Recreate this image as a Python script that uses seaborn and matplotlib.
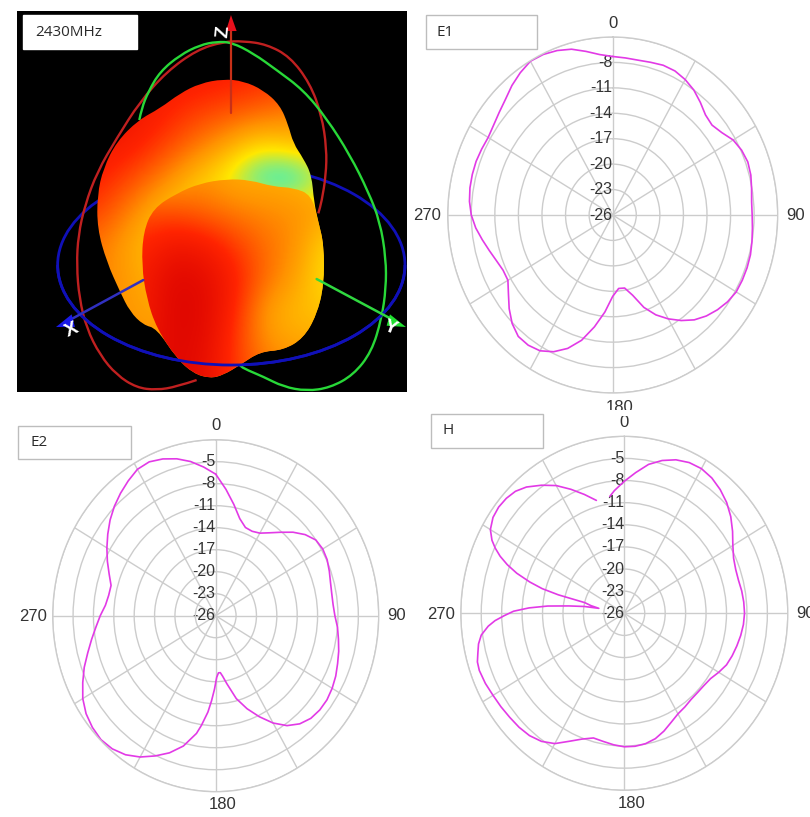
import numpy as np
import matplotlib
matplotlib.use('Agg')
import matplotlib.pyplot as plt
from matplotlib.colors import LinearSegmentedColormap
from matplotlib.patches import Polygon, Ellipse, Arc, Rectangle, PathPatch
from matplotlib.path import Path
import seaborn as sns

# radiation pattern cuts, angle in degrees and gain in dB
e1_theta = list(range(0, 365, 5))
e1_gain = [-7.3, -7.4, -7.45, -7.35, -7.2, -7.25, -7.55, -8.0, -8.65, -9.3, -9.5, -9.05, -8.3, -7.9, -7.7,
           -7.8, -8.05, -8.25, -8.25, -8.15, -8.0, -7.85, -7.8, -7.8, -7.85, -8.15, -8.6, -9.15, -9.85,
           -10.8, -11.85, -13.0, -14.4, -16.2, -17.25, -17.3, -16.4, -14.5, -12.6, -10.7, -9.25, -8.2,
           -7.5, -7.25, -7.3, -7.9, -8.8, -9.8, -10.6, -10.6, -10.25, -9.75, -9.15, -8.5, -8.0, -7.7,
           -7.55, -7.5, -7.5, -7.6, -7.7, -7.5, -7.15, -6.7, -6.05, -5.5, -5.05, -5.1, -5.35, -5.75,
           -6.4, -7.0, -7.3]

e2_theta = [0, 5, 10, 15, 20, 25, 30, 35, 40, 45, 50, 55, 60, 65, 70, 75, 80, 85, 90, 95, 100, 105, 110, 115,
            120, 125, 130, 135, 140, 145, 150, 155, 160, 165, 170, 173, 175, 177, 179, 181, 183, 185, 188,
            190, 195, 200, 205, 210, 215, 220, 225, 230, 235, 240, 245, 250, 255, 260, 265, 270, 275, 280,
            285, 290, 295, 300, 305, 310, 315, 320, 325, 330, 335, 340, 345, 350, 355, 360]
e2_gain = [-6.7, -8.7, -10.6, -12.3, -13.2, -13.3, -13.0, -12.2, -11.15, -9.9, -8.8, -8.0, -7.8, -7.9, -8.2,
           -8.5, -8.65, -8.65, -8.45, -8.0, -7.65, -7.25, -6.9, -6.5, -6.2, -6.0, -6.0, -6.2, -6.75, -7.7,
           -9.1, -10.8, -12.5, -14.3, -16.6, -17.7, -18.2, -18.2, -17.6, -16.0, -14.4, -12.8, -10.9, -9.7,
           -7.6, -6.1, -4.9, -3.75, -2.85, -2.3, -2.1, -2.3, -2.7, -3.4, -4.4, -5.4, -6.5, -7.45, -8.3,
           -9.0, -9.7, -10.0, -10.05, -9.3, -8.4, -7.5, -6.6, -5.7, -4.9, -4.2, -3.55, -2.95, -2.85, -3.25,
           -3.85, -4.65, -5.65, -6.7]

# starts and ends either side of the -11 label, which hides that bit of the curve
h_theta = [-7.6, -5, 0, 5, 10, 15, 20, 25, 30, 35, 40, 45, 50, 55, 60, 65, 70, 75, 80, 85, 90, 95, 100, 105, 110,
           115, 120, 125, 130, 135, 140, 145, 150, 155, 160, 165, 170, 175, 180, 185, 190, 195, 200, 205, 210,
           215, 220, 225, 230, 235, 240, 245, 250, 253, 256, 259, 262, 265, 267, 269, 271, 273, 275, 277, 279,
           280.2, 282, 284, 284.5, 285.5, 287, 289, 291, 293, 295, 297, 300, 304, 308, 312, 316, 320, 325, 330,
           335, 340, 345]
h_gain = [-10.0, -9.3, -8.1, -6.85, -5.5, -4.55, -3.85, -3.45, -3.35, -3.6, -4.1, -4.75, -5.6, -6.6, -7.6, -8.3,
          -8.6, -8.65, -8.5, -8.4, -8.35, -8.45, -8.65, -8.9, -9.15, -9.45, -10.0, -10.55, -10.75, -10.8, -10.75,
          -10.5, -10.25, -9.7, -9.0, -8.4, -8.05, -7.9, -7.9, -8.1, -8.35, -8.5, -7.85, -6.85, -5.6, -4.8, -4.35,
          -4.15, -4.05, -3.9, -3.75, -3.5, -3.35, -3.45, -3.85, -4.2, -4.8, -5.95, -7.0, -8.4, -9.75, -12.0, -14.7,
          -17.8, -20.1, -22.2, -21.0, -20.0, -16.0, -13.5, -11.5, -9.3, -7.6, -6.2, -5.1, -4.2, -3.3, -2.75, -2.6,
          -2.7, -3.0, -3.65, -4.8, -6.0, -7.45, -8.85, -10.15]

rings_e1 = [-26, -23, -20, -17, -14, -11, -8, -5]
rings_low = [-26, -23, -20, -17, -14, -11, -8, -5, -2]
spokes = list(range(0, 360, 30))
cardinal_labels = ['0', '90', '180', '270']
cardinal_angles = [0, 90, 180, 270]

# 3D view, outlines in the panel's own units
back_x = [640, 700, 760, 810, 835, 850, 880, 905, 912, 925, 942, 942, 920, 880, 820, 750, 690, 640, 600, 550,
          500, 440, 400, 360, 330, 290, 262, 262, 280, 320, 385, 450, 510, 570]
back_y = [222, 228, 255, 300, 360, 415, 460, 510, 590, 650, 720, 840, 930, 1000, 1035, 1040, 1080, 1110, 1120, 1105,
          1060, 970, 960, 920, 860, 770, 670, 570, 490, 410, 345, 310, 265, 235]
front_x = [400, 430, 500, 570, 650, 720, 790, 850, 905, 925, 942, 942, 920, 880, 820, 750, 690, 640, 600, 550,
           500, 440, 410, 395]
front_y = [680, 610, 565, 535, 522, 525, 545, 548, 570, 650, 720, 840, 930, 1000, 1035, 1040, 1080, 1110, 1120, 1105,
           1060, 970, 880, 780]
red_x = [560, 500, 440, 380, 320, 270, 230, 208, 200, 205, 225, 262, 320, 390, 470, 560, 640, 700, 770, 840, 900,
         935, 950, 948, 935, 925]
red_y = [1125, 1145, 1155, 1148, 1110, 1050, 970, 880, 780, 690, 600, 500, 400, 290, 200, 135, 110, 108, 118, 155, 235,
         330, 430, 510, 590, 625]
green_x = [388, 395, 415, 450, 510, 570, 620, 665, 730, 800, 880, 950, 1020, 1075, 1110, 1128, 1128, 1115, 1085,
           1030, 960, 890, 820, 760, 700, 690]
green_y = [345, 310, 260, 200, 150, 120, 110, 112, 145, 195, 255, 340, 450, 560, 650, 760, 850, 940, 1040,
           1110, 1148, 1158, 1145, 1115, 1090, 1080]

# colour level of the surface, 0 dark red .. 1 green, on a coarse grid
back_shade = np.array([
    [.18, .18, .20, .20, .22, .25, .30, .35],
    [.15, .15, .22, .30, .35, .40, .45, .50],
    [.18, .20, .30, .42, .55, .70, .62, .60],
    [.22, .32, .45, .62, .78, 1.1, 1.15, .80],
    [.30, .45, .62, .70, .65, .60, .60, .60],
    [.42, .55, .66, .60, .60, .60, .60, .60],
    [.45, .52, .62, .60, .60, .60, .60, .60],
    [.45, .52, .55, .55, .55, .55, .55, .55],
    [.45, .50, .50, .50, .50, .50, .50, .50],
    [.45, .50, .50, .50, .50, .50, .50, .50]])
front_shade = np.array([
    [.55, .55, .50, .58, .58, .60, .65],
    [.35, .35, .40, .45, .48, .50, .55],
    [.25, .15, .18, .30, .42, .50, .72],
    [.20, .05, .08, .22, .42, .55, .75],
    [.20, .04, .06, .25, .55, .62, .65],
    [.15, .05, .08, .30, .50, .55, .55],
    [.10, .05, .10, .30, .40, .45, .45]])

level_cmap = LinearSegmentedColormap.from_list(
    'pattern', ['#d80000', '#ff2400', '#ff9200', '#ffe800', '#50f0b0'])

W, H = 810, 817


def smooth_path(xs, ys, closed=False):
    # quadratic curves through the midpoints, only for the drawn 3D outlines
    pts = np.column_stack([xs, ys]).astype(float)
    if closed:
        pts = np.vstack([pts, pts[:2]])
    mids = (pts[:-1] + pts[1:]) / 2
    verts = [mids[0] if closed else pts[0]]
    codes = [Path.MOVETO]
    for ctrl, end in zip(pts[1:-1], mids[1:]):
        verts += [ctrl, end]
        codes += [Path.CURVE3, Path.CURVE3]
    if not closed:
        verts.append(pts[-1])
        codes.append(Path.LINETO)
    return Path(verts, codes)


def pattern_panel(cx, cy, rx, ry, theta, gain, rings, top, offsets):
    # polar frame is a bit taller than wide in the original
    ax = fig.add_axes([(cx - rx) / W, 1 - (cy + ry) / H, 2 * rx / W, 2 * ry / H], projection='polar')
    ax.set_aspect('auto')
    ax.set_theta_zero_location('N')
    ax.set_theta_direction(-1)
    sns.lineplot(x=np.deg2rad(theta), y=gain, ax=ax, sort=False, estimator=None,
                 color='#e23ae6', linewidth=1.2)
    ax.set_xlabel('')
    ax.set_ylabel('')
    ax.set_rlim(-26, top)
    ax.set_rlabel_position(0)
    ax.set_yticks(rings)
    ax.set_yticklabels([str(r) if r != top else '' for r in rings])
    for lab in ax.get_yticklabels():
        lab.set_ha('right')
        lab.set_va('center')
        lab.set_color('#333333')
        lab.set_fontsize(11.5)
    ax.tick_params(axis='y', pad=3)
    ax.set_xticks(np.deg2rad(spokes))
    ax.set_xticklabels([])
    ax.grid(True, color='#cccccc', linewidth=1)
    ax.spines['polar'].set_color('#cccccc')
    ax.spines['polar'].set_linewidth(1)
    for lab, ang, off in zip(cardinal_labels, cardinal_angles, offsets):
        ax.annotate(lab, xy=(np.deg2rad(ang), top), xytext=off, textcoords='offset pixels',
                    ha='center', va='center', fontsize=12, color='#333333', annotation_clip=False)
    return ax


sns.set_theme(style='white')
plt.rcParams['font.family'] = ['Liberation Sans', 'DejaVu Sans']

fig = plt.figure(figsize=(W / 100, H / 100), dpi=100, facecolor='white')

label_offsets = [(0, 14), (18, 0), (7, -13), (-20, -1)]
pattern_panel(612.7, 215, 165, 178, e1_theta, e1_gain, rings_e1, -5, [(0, 13), (18, 0), (7, -15), (-21, 0)])
pattern_panel(215.7, 615.7, 163, 176, e2_theta, e2_gain, rings_low, -2, label_offsets)
pattern_panel(624.3, 613.3, 163.5, 177, h_theta, h_gain, rings_low, -2, label_offsets)

# 3D rendering, black square top left
ax3d = fig.add_axes([17.3 / W, 1 - 391.7 / H, 390 / W, 381 / H])
ax3d.set_facecolor('black')
ax3d.set_xticks([])
ax3d.set_yticks([])
for s in ax3d.spines.values():
    s.set_visible(False)

ax3d.add_patch(Ellipse((664, 780), 1042, 600, fill=False, ec='#1010b8', lw=2, zorder=1))
ax3d.add_patch(PathPatch(smooth_path(red_x, red_y), fc='none', ec='#c02020', lw=1.7, zorder=1))
ax3d.add_patch(PathPatch(smooth_path(green_x, green_y), fc='none', ec='#28d838', lw=1.7, zorder=1))

back = PathPatch(smooth_path(back_x, back_y, closed=True), fc='none', ec='none')
ax3d.add_patch(back)
im_back = ax3d.imshow(back_shade, cmap=level_cmap, vmin=0, vmax=1, interpolation='bicubic',
                      extent=(200, 1000, 1170, 170), aspect='auto', zorder=2)
im_back.set_clip_path(back)

front = PathPatch(smooth_path(front_x, front_y, closed=True), fc='none', ec='none', zorder=3)
ax3d.add_patch(front)
im_front = ax3d.imshow(front_shade, cmap=level_cmap, vmin=0, vmax=1, interpolation='bicubic',
                       extent=(350, 1000, 1170, 470), aspect='auto', zorder=3)
im_front.set_clip_path(front)

ax3d.set_xlim(22, 1192)
ax3d.set_ylim(1160, 17)

# part of the blue ring that passes in front
ax3d.add_patch(Arc((664, 780), 1042, 600, theta1=0, theta2=180, color='#1010b8', lw=2, zorder=4))

# axes of the 3D view
ax3d.plot([663, 663], [325, 70], color='#c83018', lw=1.6, zorder=4)
ax3d.plot([400, 170], [825, 950], color='#3030c0', lw=1.8, zorder=4)
ax3d.plot([920, 1150], [822, 945], color='#30d840', lw=1.8, zorder=4)
ax3d.add_patch(Polygon([(663, 30), (648, 78), (680, 78)], fc='#e8101c', ec='none', zorder=5))
ax3d.add_patch(Polygon([(138, 966), (185, 928), (195, 966)], fc='#1a1ae6', ec='none', zorder=5))
ax3d.add_patch(Polygon([(1188, 966), (1140, 928), (1130, 962)], fc='#20e030', ec='none', zorder=5))
ax3d.text(640, 80, 'Z', color='white', fontsize=14, fontweight='bold', rotation=85,
          ha='center', va='center', zorder=6)
ax3d.text(186, 975, 'X', color='white', fontsize=14, fontweight='bold', rotation=25,
          ha='center', va='center', zorder=6)
ax3d.text(1140, 970, 'Y', color='white', fontsize=14, fontweight='bold', rotation=-20,
          ha='center', va='center', zorder=6)

# name boxes, in figure pixels
overlay = fig.add_axes([0, 0, 1, 1], facecolor='none')
overlay.set_xlim(0, W)
overlay.set_ylim(H, 0)
overlay.axis('off')
overlay.add_patch(Rectangle((555, 410), 100, 6, fc='white', ec='none'))  # cuts the 180 of E1
boxes = [(22.7, 15, 114, 34, '2430MHz', 35), (425.7, 15, 111.5, 34, 'E1', 437),
         (17.7, 425.7, 113.5, 33, 'E2', 30), (431, 414, 111.7, 33.7, 'H', 443)]
for x0, y0, bw, bh, name, tx in boxes:
    ec = 'white' if name == '2430MHz' else '#bdbdbd'
    overlay.add_patch(Rectangle((x0, y0), bw, bh, fc='white', ec=ec, lw=1))
    overlay.text(tx, y0 + bh / 2, name, fontsize=11, family='Open Sans', color='#2a2a2a',
                 ha='left', va='center')

fig.savefig('out.png', dpi=100)
